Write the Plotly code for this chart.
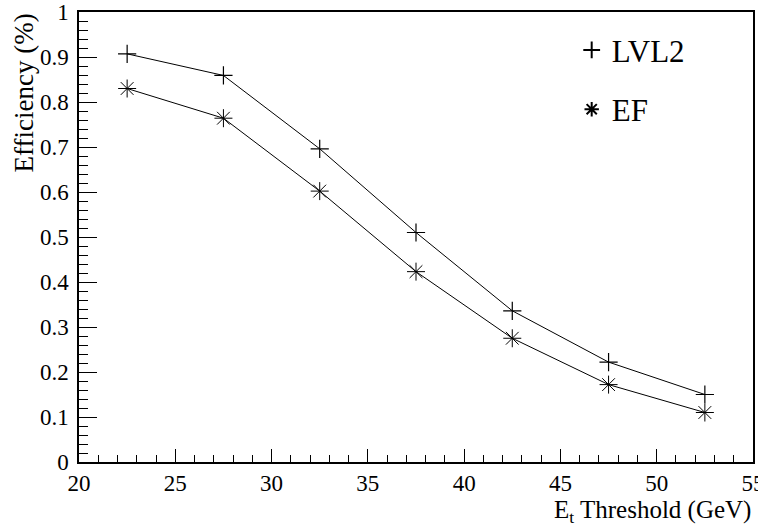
import plotly.graph_objects as go

thresholds = [22.5, 27.5, 32.5, 37.5, 42.5, 47.5, 52.5]
lvl2_eff = [0.907, 0.859, 0.696, 0.510, 0.336, 0.222, 0.150]
ef_eff = [0.830, 0.764, 0.602, 0.423, 0.275, 0.172, 0.110]

FONT = "Liberation Serif"

fig = go.Figure()
fig.add_trace(go.Scatter(x=thresholds, y=lvl2_eff, mode="lines+markers",
                         line=dict(color="black", width=1),
                         marker=dict(symbol="cross-thin-open", size=13, color="black",
                                     line=dict(width=1.2, color="black")),
                         showlegend=False))
fig.add_trace(go.Scatter(x=thresholds, y=ef_eff, mode="lines+markers",
                         line=dict(color="black", width=1),
                         marker=dict(symbol="asterisk-open", size=15, color="black",
                                     line=dict(width=1, color="black")),
                         showlegend=False))
fig.add_trace(go.Scatter(x=[None], y=[None], mode="markers", name="LVL2",
                         legendgroup="a",
                         marker=dict(symbol="cross-thin-open", size=14, color="black",
                                     line=dict(width=1, color="black"))))
fig.add_trace(go.Scatter(x=[None], y=[None], mode="markers", name="EF",
                         legendgroup="b",
                         marker=dict(symbol="asterisk-open", size=15, color="black",
                                     line=dict(width=0.8, color="black"))))

axis_common = dict(showline=True, linecolor="black", linewidth=1.5, mirror=True,
                   showgrid=False, zeroline=False, ticks="inside", tickcolor="black",
                   ticklabeloverflow="allow", automargin=False,
                   tickfont=dict(family=FONT, size=23, color="black"))

fig.update_xaxes(range=[20, 55.0001], tickvals=[20, 25, 30, 35, 40, 45, 50, 55],
                 ticktext=["20", "25", "30", "35", "40", "45", "50", "55"],
                 ticklen=13, tickwidth=1,
                 minor=dict(dtick=1, tick0=20, ticklen=7, ticks="inside", tickcolor="black", tickwidth=1),
                 **axis_common)
fig.update_yaxes(range=[0, 1], dtick=0.1, tick0=0, ticklen=18, tickwidth=1,
                 ticklabelstandoff=4,
                 minor=dict(dtick=0.02, ticklen=9, ticks="inside", tickcolor="black", tickwidth=1),
                 **axis_common)

fig.update_layout(
    width=758, height=524,
    margin=dict(l=79, r=5, t=12, b=62),
    plot_bgcolor="white", paper_bgcolor="white",
    font=dict(family=FONT, color="black"),
    legend=dict(x=0.731, y=0.975, xanchor="left", yanchor="top",
                bgcolor="rgba(0,0,0,0)", font=dict(family=FONT, size=31),
                traceorder="grouped", tracegroupgap=16, itemsizing="constant"),
    annotations=[
        dict(text="E<sub>t</sub> Threshold (GeV)", xref="paper", yref="paper",
             x=1, y=0, xanchor="right", yanchor="top", yshift=-32, showarrow=False,
             font=dict(family=FONT, size=25, color="black")),
        dict(text="Efficiency (%)", xref="paper", yref="paper", textangle=-90,
             x=0, y=1, xanchor="center", yanchor="top", xshift=-56, showarrow=False,
             font=dict(family=FONT, size=27, color="black")),
    ],
)

fig.write_html("out.html")
